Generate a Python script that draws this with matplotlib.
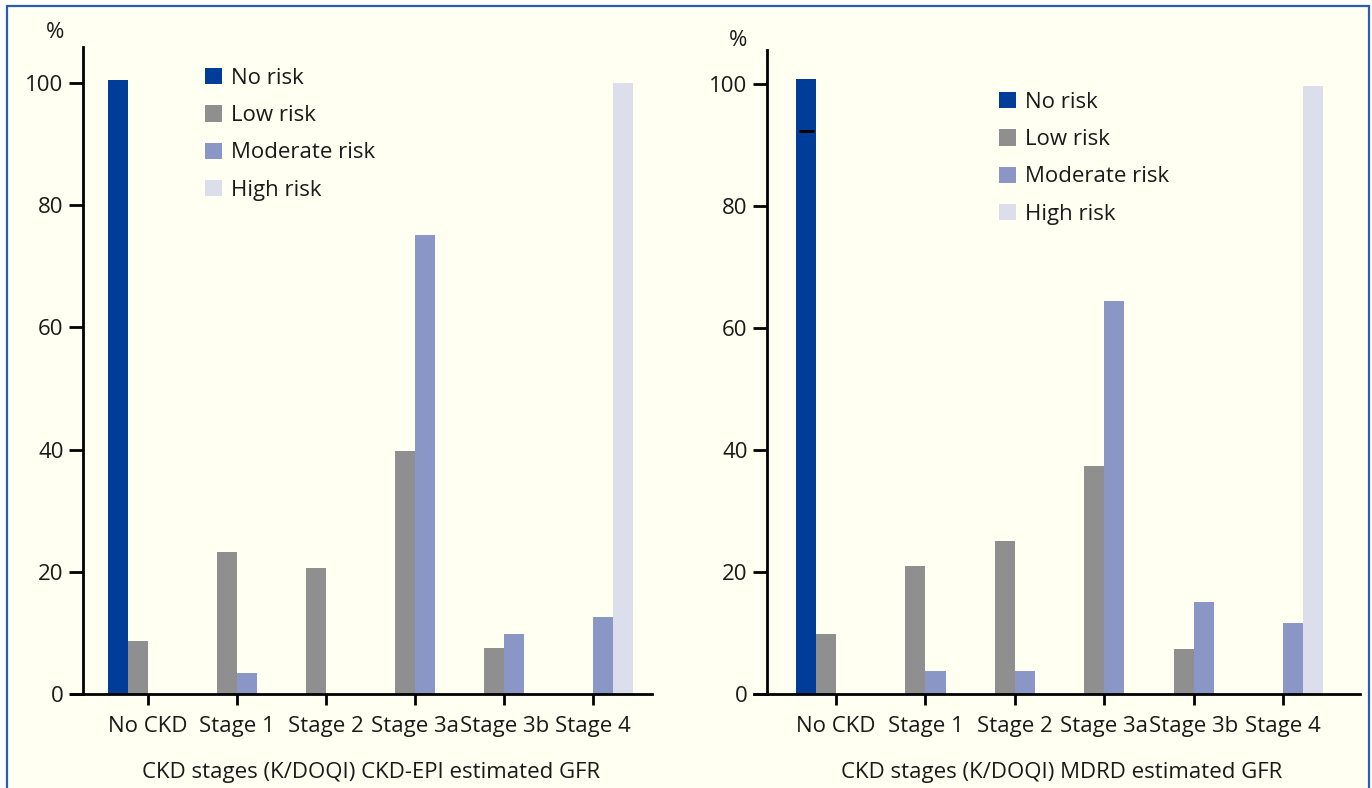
import numpy as np
import matplotlib.pyplot as plt
from matplotlib.patches import Patch, Rectangle
from matplotlib.transforms import ScaledTranslation

plt.rcParams['font.family'] = ['Open Sans', 'DejaVu Sans']

stages = ['No CKD', 'Stage 1', 'Stage 2', 'Stage 3a', 'Stage 3b', 'Stage 4']
risk_names = ['No risk', 'Low risk', 'Moderate risk', 'High risk']
risk_colors = ['#003d99', '#8f8f8f', '#8a96c6', '#dddeec']

# CKD-EPI estimated GFR (%)
epi_no = [100.5, 0, 0, 0, 0, 0]
epi_low = [8.7, 23.3, 20.7, 39.8, 7.5, 0]
epi_mod = [0, 3.4, 0, 75.1, 9.8, 12.6]
epi_high = [0, 0, 0, 0, 0, 100]

# MDRD estimated GFR (%)
mdrd_no = [100.8, 0, 0, 0, 0, 0]
mdrd_low = [9.8, 21.0, 25.1, 37.4, 7.4, 0]
mdrd_mod = [0, 3.7, 3.7, 64.4, 15.1, 11.6]
mdrd_high = [0, 0, 0, 0, 0, 99.7]
mdrd_mark = 92.3  # short black dash on the No CKD bar

W, H = 1372, 788
bg = '#fffff2'
ink = '#1a1a1a'
fs = 16
# tick labels in the original sit a little off their ticks (pixels)
label_shift = [-7, -5, -1, 1, 1, 14]

fig = plt.figure(figsize=(W / 100, H / 100), dpi=100, facecolor='white')
fig.patches.append(Rectangle((7 / W, -0.02), 1362 / W, 1 - 6 / H + 0.02,
                             transform=fig.transFigure, facecolor=bg,
                             edgecolor='#2b5cb4', linewidth=1.6, zorder=-10))


def box(left, right, top, bottom):
    return [left / W, 1 - bottom / H, (right - left) / W, (bottom - top) / H]


def panel(rect, xlim, ylim_top, spine_x, series, xlabel, xlabel_pos):
    ax = fig.add_axes(rect)
    ax.set_facecolor('none')
    x = np.arange(len(stages))
    w = 0.225
    offsets = [-1.5, -0.5, 0.5, 1.5]
    for vals, off, col, lab in zip(series, offsets, risk_colors, risk_names):
        ax.bar(x + off * w, vals, w, color=col, linewidth=0, label=lab)
    ax.set_xlim(*xlim)
    ax.set_ylim(0, ylim_top)
    ax.spines['top'].set_visible(False)
    ax.spines['right'].set_visible(False)
    ax.spines['left'].set_position(('data', spine_x))
    ax.spines['left'].set_bounds(0, ylim_top)
    for s in ('left', 'bottom'):
        ax.spines[s].set_linewidth(2.0)
        ax.spines[s].set_color('black')
    ax.set_xticks(x)
    ax.set_xticklabels(stages)
    for lab, dx in zip(ax.get_xticklabels(), label_shift):
        lab.set_transform(lab.get_transform() +
                          ScaledTranslation(dx / 100, 0, fig.dpi_scale_trans))
    ax.set_yticks([0, 20, 40, 60, 80, 100])
    ax.tick_params(axis='y', length=10, width=2, pad=4, labelsize=fs,
                   labelcolor=ink)
    ax.tick_params(axis='x', length=8, width=2, pad=8, labelsize=fs,
                   labelcolor=ink)
    ax.set_xlabel(xlabel, fontsize=fs, color=ink, labelpad=19)
    ax.xaxis.set_label_coords(xlabel_pos, -0.105)
    return ax


ax1 = panel(box(71, 652, 47, 694), (-0.865, 5.66), 105.9, -0.73,
            [epi_no, epi_low, epi_mod, epi_high],
            'CKD stages (K/DOQI) CKD-EPI estimated GFR', 0.516)
ax2 = panel(box(754, 1360, 50, 694), (-0.917, 5.86), 105.6, -0.772,
            [mdrd_no, mdrd_low, mdrd_mod, mdrd_high],
            'CKD stages (K/DOQI) MDRD estimated GFR', 0.508)
ax2.hlines(mdrd_mark, -1.5 * 0.225 - 0.08, -1.5 * 0.225 + 0.09,
           color='black', linewidth=2.2)

fig.text(55 / W, 1 - 33 / H, '%', fontsize=fs, color=ink,
         ha='center', va='center')
fig.text(738 / W, 1 - 40 / H, '%', fontsize=fs, color=ink,
         ha='center', va='center')

handles = [Patch(facecolor=c, edgecolor='none') for c in risk_colors]
for ax, (lx, ty) in ((ax1, (205, 68)), (ax2, (999, 92))):
    ax.legend(handles, risk_names, loc='upper left',
              bbox_to_anchor=(lx / W, 1 - ty / H),
              bbox_transform=fig.transFigure, frameon=False,
              fontsize=fs, handlelength=0.75, handleheight=0.75,
              handletextpad=0.42, labelspacing=0.73, borderpad=0,
              borderaxespad=0, labelcolor=ink)

fig.savefig('out.png', dpi=100, facecolor=fig.get_facecolor())
